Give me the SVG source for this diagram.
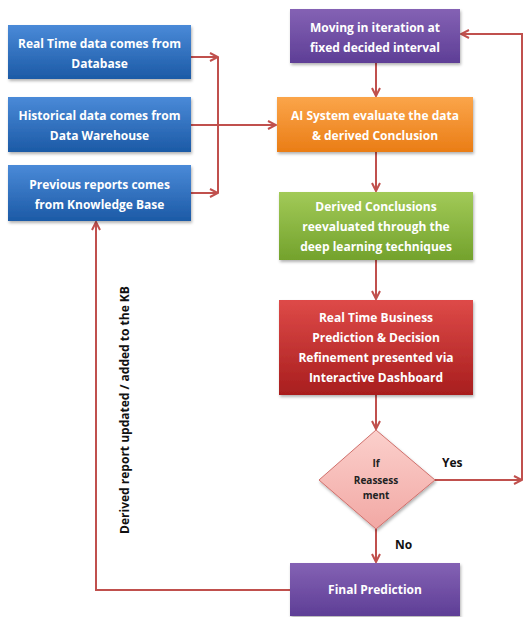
<svg xmlns="http://www.w3.org/2000/svg" width="524" height="617" viewBox="0 0 524 617">
<defs>
<linearGradient id="gBlue" x1="0" y1="0" x2="0" y2="1"><stop offset="0" stop-color="#4a8ad8"/><stop offset="1" stop-color="#1c5aa6"/></linearGradient>
<linearGradient id="gPurple" x1="0" y1="0" x2="0" y2="1"><stop offset="0" stop-color="#8462b4"/><stop offset="1" stop-color="#5e3e96"/></linearGradient>
<linearGradient id="gOrange" x1="0" y1="0" x2="0" y2="1"><stop offset="0" stop-color="#fba54a"/><stop offset="1" stop-color="#ea7d16"/></linearGradient>
<linearGradient id="gGreen" x1="0" y1="0" x2="0" y2="1"><stop offset="0" stop-color="#a2ca58"/><stop offset="1" stop-color="#73a22c"/></linearGradient>
<linearGradient id="gRed" x1="0" y1="0" x2="0" y2="1"><stop offset="0" stop-color="#de4a48"/><stop offset="1" stop-color="#a81e1e"/></linearGradient>
<linearGradient id="gPink" x1="0" y1="0" x2="0" y2="1"><stop offset="0" stop-color="#fbd0cc"/><stop offset="1" stop-color="#f2a8a4"/></linearGradient>
<filter id="sh" x="-10%" y="-10%" width="125%" height="130%"><feDropShadow dx="1" dy="2" stdDeviation="1.5" flood-color="#000" flood-opacity="0.3"/></filter>
<marker id="ah" viewBox="0 0 10 10" refX="9" refY="5" markerWidth="10" markerHeight="10" markerUnits="userSpaceOnUse" orient="auto"><path d="M1,1 L9,5 L1,9" fill="none" stroke="#c0504d" stroke-width="2"/></marker>
</defs>
<style>
.box{filter:url(#sh)}
.t{font-family:"Open Sans","Liberation Sans",sans-serif;font-weight:bold;font-size:12px;fill:#fff;text-anchor:middle}
.d{font-family:"Open Sans","Liberation Sans",sans-serif;font-weight:bold;font-size:10px;fill:#222;text-anchor:middle}
.lbl{font-family:"Open Sans","Liberation Sans",sans-serif;font-weight:bold;font-size:12px;fill:#111}
.c{fill:none;stroke:#c0504d;stroke-width:2}
</style>
<rect width="524" height="617" fill="#fff"/>
<g id="connectors">
<path class="c" d="M191,57 H218" marker-end="url(#ah)"/>
<path class="c" d="M191,193 H218" marker-end="url(#ah)"/>
<path class="c" d="M218,57 V193"/>
<path class="c" d="M191,125 H276" marker-end="url(#ah)"/>
<path class="c" d="M376,63 V96" marker-end="url(#ah)"/>
<path class="c" d="M376,152 V191" marker-end="url(#ah)"/>
<path class="c" d="M376,260 V299" marker-end="url(#ah)"/>
<path class="c" d="M376,395 V429" marker-end="url(#ah)"/>
<path class="c" d="M435,480 H522" marker-end="url(#ah)"/>
<path class="c" d="M522,480 V34 H461" marker-end="url(#ah)"/>
<path class="c" d="M376,528 V562" marker-end="url(#ah)"/>
<path class="c" d="M290,590 H96 V222" marker-end="url(#ah)"/>
<text class="lbl" x="442" y="467">Yes</text>
<text class="lbl" x="395" y="549">No</text>
<text class="lbl" transform="translate(129,410) rotate(-90)" text-anchor="middle" font-size="14.5">Derived report updated / added to the KB</text>
</g>
<g id="realtime"><rect class="box" x="8" y="25" width="183" height="54" fill="url(#gBlue)"/><text class="t" x="99.5" y="48">Real Time data comes from</text><text class="t" x="99.5" y="68">Database</text></g>
<g id="historical"><rect class="box" x="8" y="97" width="183" height="55" fill="url(#gBlue)"/><text class="t" x="99.5" y="120">Historical  data comes from</text><text class="t" x="99.5" y="140">Data Warehouse</text></g>
<g id="previous"><rect class="box" x="8" y="165" width="183" height="56" fill="url(#gBlue)"/><text class="t" x="99.5" y="189">Previous reports comes</text><text class="t" x="99.5" y="209">from Knowledge Base</text></g>
<g id="moving"><rect class="box" x="290" y="9" width="170" height="54" fill="url(#gPurple)"/><text class="t" x="375" y="32">Moving in iteration at</text><text class="t" x="375" y="52">fixed decided interval</text></g>
<g id="ai"><rect class="box" x="277" y="97" width="196" height="55" fill="url(#gOrange)"/><text class="t" x="375" y="120">AI System evaluate the  data</text><text class="t" x="375" y="140">&amp; derived Conclusion</text></g>
<g id="derived"><rect class="box" x="279" y="192" width="194" height="68" fill="url(#gGreen)"/><text class="t" x="376" y="211">Derived Conclusions</text><text class="t" x="376" y="231">reevaluated through the</text><text class="t" x="376" y="251">deep learning techniques</text></g>
<g id="realtimebiz"><rect class="box" x="279" y="300" width="194" height="95" fill="url(#gRed)"/><text class="t" x="376" y="322">Real Time Business</text><text class="t" x="376" y="342">Prediction &amp; Decision</text><text class="t" x="376" y="362">Refinement presented via</text><text class="t" x="376" y="382">Interactive Dashboard</text></g>
<g id="reassess"><path class="box" d="M376,430 L435,480 L376,529 L319,480 Z" fill="url(#gPink)" stroke="#d0706c" stroke-width="1"/><text class="d" x="376" y="467">If</text><text class="d" x="376" y="484">Reassess</text><text class="d" x="376" y="499">ment</text></g>
<g id="final"><rect class="box" x="290" y="563" width="170" height="53" fill="url(#gPurple)"/><text class="t" x="375" y="594">Final Prediction</text></g>
</svg>
